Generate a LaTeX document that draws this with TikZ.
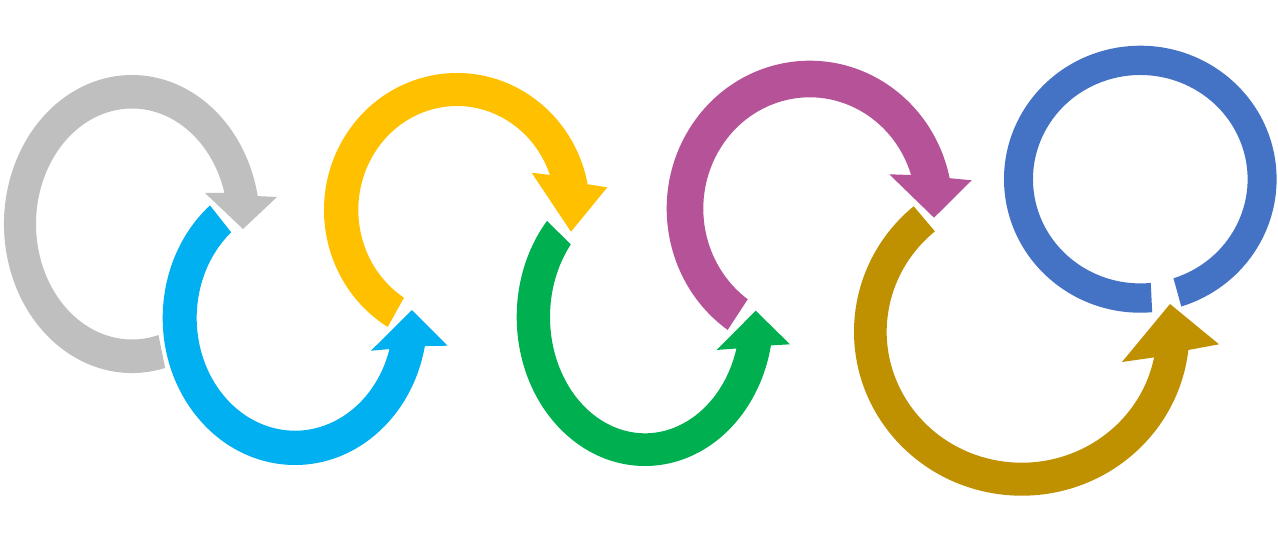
\documentclass[tikz,border=0pt]{standalone}
\usetikzlibrary{calc}
\definecolor{cgray}{HTML}{BFBFBF}
\definecolor{cblue}{HTML}{00B0F0}
\definecolor{cyellow}{HTML}{FFC000}
\definecolor{cgreen}{HTML}{00B050}
\definecolor{cpurple}{HTML}{B65398}
\definecolor{colive}{HTML}{BF9000}
\definecolor{cring}{HTML}{4472C4}
\begin{document}
\begin{tikzpicture}[x=1pt,y=-1pt]
\fill[white] (0,0) rectangle (1278,549);
\useasboundingbox (0,0) rectangle (1278,549);
% gray
\coordinate (g) at (132,224);
\fill[cgray] ($(g)+(75:128 and 149)$) arc[start angle=75, end angle=349.2, x radius=128, y radius=149]
  -- (277,197) -- (243,229) -- (205,193)
  -- ($(g)+(344.4:96 and 115.5)$) arc[start angle=344.4, end angle=74, x radius=96, y radius=115.5] -- cycle;
% blue
\coordinate (b) at (295,318);
\fill[cblue] ($(b)+(230:132.3 and 147)$) arc[start angle=230, end angle=11, x radius=132.3, y radius=147]
  -- (447.7,345.7) -- (412,310) -- (371,350.7)
  -- ($(b)+(16:98.3 and 112.7)$) arc[start angle=16, end angle=229.5, x radius=98.3, y radius=112.7] -- cycle;
% yellow
\coordinate (y) at (457,210);
\fill[cyellow] ($(y)+(121.4:133 and 137)$) arc[start angle=121.4, end angle=349.2, x radius=133, y radius=137]
  -- (607.3,187.3) -- (571,231.7) -- (531.7,172.7)
  -- ($(y)+(340.3:98.7 and 104)$) arc[start angle=340.3, end angle=122.5, x radius=98.7, y radius=104] -- cycle;
% green
\coordinate (gr) at (645,317);
\fill[cgreen] ($(gr)+(220.2:128.3 and 149)$) arc[start angle=220.2, end angle=11, x radius=128.3, y radius=149]
  -- (790,344.3) -- (755.7,310.7) -- (716.7,350)
  -- ($(gr)+(15.7:95 and 116.3)$) arc[start angle=15.7, end angle=218.6, x radius=95, y radius=116.3] -- cycle;
% purple
\coordinate (p) at (809.7,208.7);
\fill[cpurple] ($(p)+(125:143 and 148)$) arc[start angle=125, end angle=348.1, x radius=143, y radius=148]
  -- (971.7,180.3) -- (934,217.7) -- (889.3,174.3)
  -- ($(p)+(342.4:106.4 and 111.4)$) arc[start angle=342.4, end angle=125.6, x radius=106.4, y radius=111.4] -- cycle;
% olive
\coordinate (o) at (1021.7,331.7);
\fill[colive] ($(o)+(229.9:167.7 and 164)$) arc[start angle=229.9, end angle=6.4, x radius=167.7, y radius=164]
  -- (1219,344.3) -- (1170,304) -- (1122,362)
  -- ($(o)+(11.3:135 and 131)$) arc[start angle=11.3, end angle=230, x radius=135, y radius=131] -- cycle;
% ring
\coordinate (r) at (1140.3,179.2);
\fill[cring] ($(r)+(85:136.3 and 133.5)$) arc[start angle=85, end angle=432.5, x radius=136.3, y radius=133.5]
  -- ($(r)+(432:107.3 and 104.2)$) arc[start angle=432, end angle=84.4, x radius=107.3, y radius=104.2] -- cycle;
\end{tikzpicture}
\end{document}
